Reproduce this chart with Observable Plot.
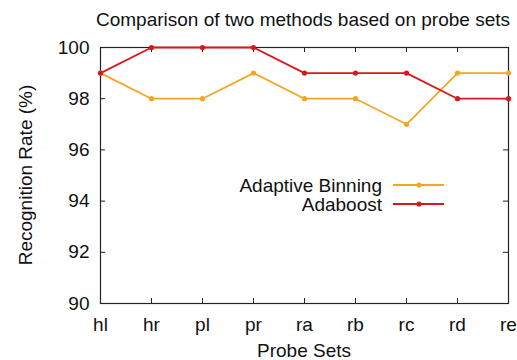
<!DOCTYPE html>
<html>
<head>
<meta charset="utf-8">
<script src="https://cdn.jsdelivr.net/npm/d3@7"></script>
<script src="https://cdn.jsdelivr.net/npm/@observablehq/plot@0.6"></script>
<style>
  html, body { margin: 0; padding: 0; background: #fff; }
  svg { display: block; }
</style>
</head>
<body>
<div id="chart"></div>
<script>
const title = "Comparison of two methods based on probe sets";
const xLabel = "Probe Sets";
const yLabel = "Recognition Rate (%)";
const probeSets = ["hl","hr","pl","pr","ra","rb","rc","rd","re"];
const adaptiveBinning = [99,98,98,99,98,98,97,99,99];
const adaboost = [99,100,100,100,99,99,99,98,98];
const yTicks = [90,92,94,96,98,100];
const seriesNames = ["Adaptive Binning", "Adaboost"];
const seriesColors = ["#f4a620", "#d7191c"];

const data = [];
probeSets.forEach((p, i) => {
  data.push({set: p, value: adaptiveBinning[i], series: seriesNames[0]});
});
probeSets.forEach((p, i) => {
  data.push({set: p, value: adaboost[i], series: seriesNames[1]});
});

const W = 517, H = 360;
const mL = 100, mR = 9, mT = 47, mB = 57;
const plotW = W - mL - mR, plotH = H - mT - mB;
const tick = 5;

const font = "Liberation Sans, Arial, sans-serif";
const fs = 19;

const chart = Plot.plot({
  width: W,
  height: H,
  marginLeft: mL,
  marginRight: mR,
  marginTop: mT,
  marginBottom: mB,
  style: {fontFamily: font, fontSize: fs + "px", color: "#111", background: "#fff"},
  x: {type: "point", domain: probeSets, padding: 0, label: null},
  y: {domain: [90, 100], label: null},
  color: {domain: seriesNames, range: seriesColors},
  marks: [
    Plot.axisX({anchor: "bottom", tickSize: 0, tickPadding: 14, fontSize: fs, label: null}),
    Plot.axisY({anchor: "left", ticks: yTicks, tickSize: 0, tickPadding: 11, fontSize: fs, label: null}),
    Plot.tickX(probeSets, {x: d => d, insetTop: plotH - tick, stroke: "#222"}),
    Plot.tickX(probeSets, {x: d => d, insetBottom: plotH - tick, stroke: "#222"}),
    Plot.tickY(yTicks, {y: d => d, insetRight: plotW - tick, stroke: "#222"}),
    Plot.tickY(yTicks, {y: d => d, insetLeft: plotW - tick, stroke: "#222"}),
    Plot.frame({stroke: "#222", strokeWidth: 1.2}),
    Plot.line(data, {x: "set", y: "value", z: "series", stroke: "series", strokeWidth: 1.8}),
    Plot.dot(data, {x: "set", y: "value", fill: "series", r: 2.6})
  ]
});

const svg = d3.select(chart);
svg.append("text")
  .attr("x", 303).attr("y", 26)
  .attr("text-anchor", "middle")
  .attr("font-family", font).attr("font-size", fs).attr("fill", "#111")
  .text(title);
svg.append("text")
  .attr("x", 304).attr("y", 357)
  .attr("text-anchor", "middle")
  .attr("font-family", font).attr("font-size", fs).attr("fill", "#111")
  .text(xLabel);
svg.append("text")
  .attr("transform", "translate(32,175) rotate(-90)")
  .attr("text-anchor", "middle")
  .attr("font-family", font).attr("font-size", fs).attr("fill", "#111")
  .text(yLabel);

const legend = svg.append("g");
seriesNames.forEach((name, i) => {
  const y = 185 + i * 19;
  legend.append("text")
    .attr("x", 382).attr("y", y).attr("dy", "0.35em")
    .attr("text-anchor", "end")
    .attr("font-family", font).attr("font-size", fs).attr("fill", "#111")
    .text(name);
  legend.append("line")
    .attr("x1", 393).attr("x2", 444).attr("y1", y).attr("y2", y)
    .attr("stroke", seriesColors[i]).attr("stroke-width", 1.8);
  legend.append("circle")
    .attr("cx", 419).attr("cy", y).attr("r", 2.6)
    .attr("fill", seriesColors[i]);
});

document.getElementById("chart").appendChild(chart);
</script>
</body>
</html>
